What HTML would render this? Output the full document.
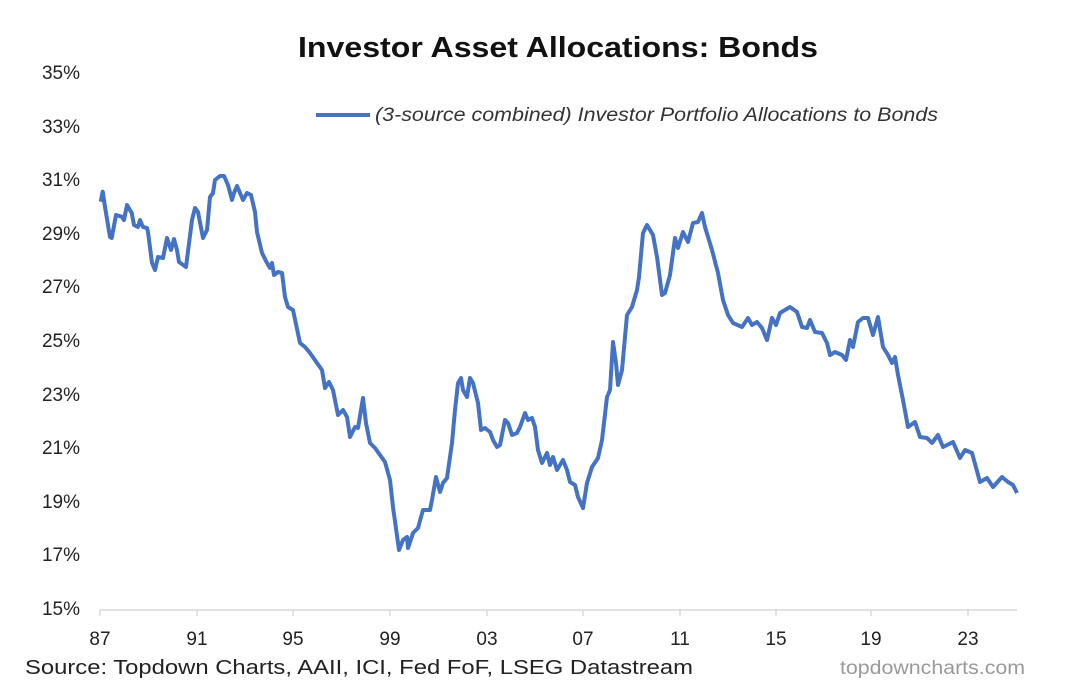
<!DOCTYPE html>
<html><head><meta charset="utf-8"><style>
body{margin:0;background:#fff;}
svg{display:block;font-family:"Liberation Sans",Arial,sans-serif;}
</style></head><body>
<svg width="1070" height="687" viewBox="0 0 1070 687">
<rect width="1070" height="687" fill="#fff"/>
<text x="298" y="57" font-size="29" font-weight="bold" fill="#111" textLength="520" lengthAdjust="spacingAndGlyphs">Investor Asset Allocations: Bonds</text>
<line x1="316" y1="115" x2="370" y2="115" stroke="#4472C4" stroke-width="4"/>
<text x="375" y="121" font-size="19" font-style="italic" fill="#333" textLength="563" lengthAdjust="spacingAndGlyphs">(3-source combined) Investor Portfolio Allocations to Bonds</text>
<g font-size="19" fill="#222" text-anchor="end">
<text x="80" y="79">35%</text><text x="80" y="133">33%</text><text x="80" y="186">31%</text>
<text x="80" y="240">29%</text><text x="80" y="293">27%</text><text x="80" y="347">25%</text>
<text x="80" y="401">23%</text><text x="80" y="454">21%</text><text x="80" y="508">19%</text>
<text x="80" y="561">17%</text><text x="80" y="615">15%</text>
</g>
<line x1="100" y1="610" x2="1017" y2="610" stroke="#d9d9d9" stroke-width="1.5"/>
<g stroke="#d9d9d9" stroke-width="1.5">
<line x1="100" y1="610" x2="100" y2="616"/><line x1="197" y1="610" x2="197" y2="616"/><line x1="293" y1="610" x2="293" y2="616"/><line x1="390" y1="610" x2="390" y2="616"/><line x1="487" y1="610" x2="487" y2="616"/><line x1="583" y1="610" x2="583" y2="616"/><line x1="680" y1="610" x2="680" y2="616"/><line x1="776" y1="610" x2="776" y2="616"/><line x1="871" y1="610" x2="871" y2="616"/><line x1="968" y1="610" x2="968" y2="616"/>
</g>
<g font-size="19" fill="#222" text-anchor="middle">
<text x="100" y="645">87</text><text x="197" y="645">91</text><text x="293" y="645">95</text><text x="390" y="645">99</text><text x="487" y="645">03</text><text x="583" y="645">07</text><text x="680" y="645">11</text><text x="776" y="645">15</text><text x="871" y="645">19</text><text x="968" y="645">23</text>
</g>
<text x="25" y="674" font-size="20" fill="#222" textLength="668" lengthAdjust="spacingAndGlyphs">Source: Topdown Charts, AAII, ICI, Fed FoF, LSEG Datastream</text>
<text x="840" y="674" font-size="19" fill="#999" textLength="185" lengthAdjust="spacingAndGlyphs">topdowncharts.com</text>
<polyline fill="none" stroke="#4472C4" stroke-width="4" stroke-linejoin="round" points="
100.7,201.7 102.7,191.7 105,207 110,237 111.7,238 116,215 121.7,216.7 124,220 127,205 131.7,213 134,225 138,227 140,220 143,227 147,228 148,232 152,263 155,270 158,257 163,258 167,238 171,250 174,239 177,250 179,262 186,267 192,220 195,208 198,212 203,238 207,230 210,197 213,193 215,180 220,176 224,176 228,185 232,200 234,193 237,186 243,200 247,193 251,195 255,212 257,232 262,253 267,263 270,268 272,263 274,275 278,272 282,273 285,297 288,307 293,310 300,343 305,347 310,353 317,363 322,370 325,388 329,382 333,390 338,415 343,410 347,417 350,437 355,427 358,428 363,398 366,423 370,443 375,448 380,455 385,462 390,480 393,507 399,550 403,540 407,537 408,548 413,533 418,528 423,510 430,510 432,500 436,477 440,492 443,483 447,478 452,443 455,410 458,383 461,378 463,390 467,397 470,378 473,383 478,403 481,430 485,428 490,432 493,440 497,447 500,445 505,420 508,423 512,435 517,433 520,427 525,413 528,420 532,418 535,427 538,450 542,463 547,453 550,465 553,457 557,470 563,460 567,470 570,482 575,485 578,497 583,508 587,483 592,467 598,458 602,440 607,397 610,390 613,342 616,363 618,385 622,370 627,315 632,307 637,290 639,277 643,233 647,225 653,235 657,257 662,295 665,293 670,275 675,238 678,248 683,232 688,242 693,223 698,222 702,213 705,227 712,250 718,273 723,300 728,315 733,323 742,327 748,318 752,325 757,322 762,328 767,340 772,318 776,325 780,313 790,307 797,312 802,327 807,328 810,320 815,332 822,333 827,343 830,355 835,352 842,355 846,360 850,340 853,347 858,322 863,318 868,318 873,335 878,317 883,347 888,355 892,363 895,357 898,375 903,400 908,427 915,422 920,437 927,438 932,443 938,435 943,447 953,442 960,458 965,450 972,453 980,482 987,478 993,487 1002,477 1008,482 1013,485 1017,493"/>
</svg>
</body></html>
